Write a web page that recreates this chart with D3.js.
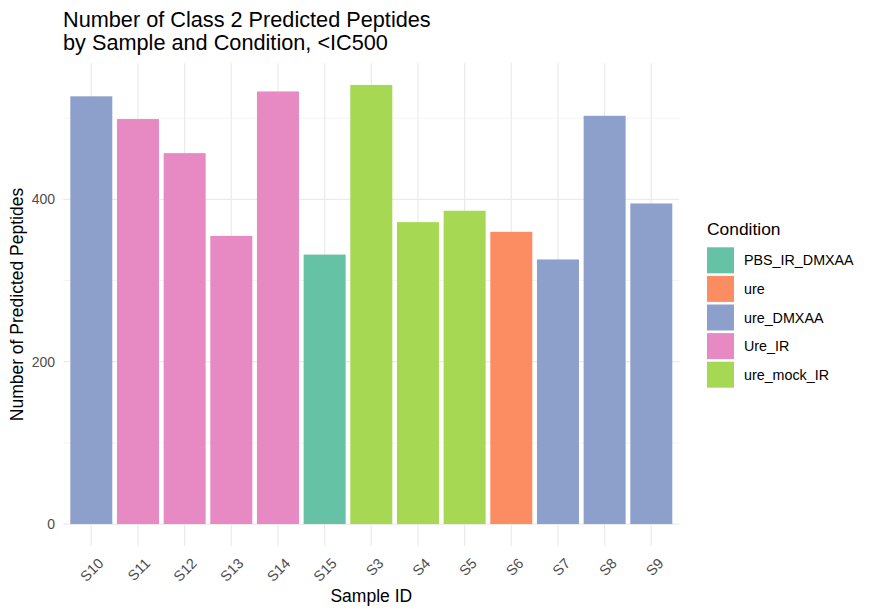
<!DOCTYPE html>
<html>
<head>
<meta charset="utf-8">
<script src="https://cdn.jsdelivr.net/npm/d3@7"></script>
<style>
  body { margin: 0; background: #fff; }
  text { font-family: "Liberation Sans", Arial, sans-serif; }
</style>
</head>
<body>
<div id="chart"></div>
<script>
// ========================================================================
// Data
// ========================================================================
var samples = ["S10", "S11", "S12", "S13", "S14", "S15", "S3", "S4", "S5", "S6", "S7", "S8", "S9"];
var peptides = [527, 499, 457, 355, 533, 332, 541, 372, 386, 360, 326, 503, 395];
var sampleCondition = ["ure_DMXAA", "Ure_IR", "Ure_IR", "Ure_IR", "Ure_IR", "PBS_IR_DMXAA",
  "ure_mock_IR", "ure_mock_IR", "ure_mock_IR", "ure", "ure_DMXAA", "ure_DMXAA", "ure_DMXAA"];
var conditions = ["PBS_IR_DMXAA", "ure", "ure_DMXAA", "Ure_IR", "ure_mock_IR"];
var conditionColors = ["#66C2A5", "#FC8D62", "#8DA0CB", "#E78AC3", "#A6D854"];
var yTicks = [0, 200, 400];
var yMinor = [100, 300, 500];

// ========================================================================
// Sizes
// ========================================================================
var width = 872, height = 615;
var panel = { left: 63.3, right: 679.3, top: 63, bottom: 546 };

var svg = d3.select("#chart").append("svg")
  .attr("width", width)
  .attr("height", height);

// discrete x: ggplot expands 0.6 of a step each side
var step = (panel.right - panel.left) / (samples.length - 1 + 1.2);
var x = d3.scalePoint()
  .domain(samples)
  .range([panel.left + 0.6 * step, panel.right - 0.6 * step]);
var barW = step * 0.9;

var maxV = d3.max(peptides);
var y = d3.scaleLinear()
  .domain([-0.05 * maxV, maxV * 1.05])
  .range([panel.bottom, panel.top]);

var color = d3.scaleOrdinal().domain(conditions).range(conditionColors);

// ========================================================================
// Grid
// ========================================================================
var grid = svg.append("g");
grid.selectAll(".minor").data(yMinor).enter().append("line")
  .attr("x1", panel.left).attr("x2", panel.right)
  .attr("y1", d => y(d)).attr("y2", d => y(d))
  .attr("stroke", "#EBEBEB").attr("stroke-width", 0.6);
grid.selectAll(".major").data(yTicks).enter().append("line")
  .attr("x1", panel.left).attr("x2", panel.right)
  .attr("y1", d => y(d)).attr("y2", d => y(d))
  .attr("stroke", "#EBEBEB").attr("stroke-width", 1.2);
grid.selectAll(".vmajor").data(samples).enter().append("line")
  .attr("x1", d => x(d)).attr("x2", d => x(d))
  .attr("y1", panel.top).attr("y2", panel.bottom)
  .attr("stroke", "#EBEBEB").attr("stroke-width", 1.2);

// ========================================================================
// Bars
// ========================================================================
svg.append("g").selectAll("rect")
  .data(samples)
  .enter().append("rect")
  .attr("x", d => x(d) - barW / 2)
  .attr("width", barW)
  .attr("y", (d, i) => y(peptides[i]))
  .attr("height", (d, i) => y(0) - y(peptides[i]))
  .attr("fill", (d, i) => color(sampleCondition[i]));

// ========================================================================
// Axes text
// ========================================================================
svg.append("g").selectAll("text")
  .data(yTicks)
  .enter().append("text")
  .attr("x", 55)
  .attr("y", d => y(d))
  .attr("dy", "0.35em")
  .attr("text-anchor", "end")
  .attr("font-size", 14)
  .attr("fill", "#4D4D4D")
  .text(d => d);

svg.append("g").selectAll("text")
  .data(samples)
  .enter().append("text")
  .attr("transform", d => "translate(" + (x(d) + 6) + "," + 557 + ") rotate(-45)")
  .attr("text-anchor", "end")
  .attr("dy", "0.7em")
  .attr("font-size", 14.5)
  .attr("fill", "#4D4D4D")
  .text(d => d);

svg.append("text")
  .attr("x", (panel.left + panel.right) / 2)
  .attr("y", 602)
  .attr("text-anchor", "middle")
  .attr("font-size", 17.5)
  .attr("fill", "#000")
  .text("Sample ID");

svg.append("text")
  .attr("transform", "translate(23," + (panel.top + panel.bottom) / 2 + ") rotate(-90)")
  .attr("text-anchor", "middle")
  .attr("font-size", 17.5)
  .attr("fill", "#000")
  .text("Number of Predicted Peptides");

// ========================================================================
// Title
// ========================================================================
var title = svg.append("text")
  .attr("x", 63)
  .attr("font-size", 21.7)
  .attr("fill", "#000");
title.append("tspan").attr("x", 63).attr("y", 27).text("Number of Class 2 Predicted Peptides");
title.append("tspan").attr("x", 63).attr("y", 50).text("by Sample and Condition, <IC500");

// ========================================================================
// Legend
// ========================================================================
var legend = svg.append("g").attr("transform", "translate(707,0)");
legend.append("text")
  .attr("x", 0).attr("y", 235)
  .attr("font-size", 17.4)
  .text("Condition");

var item = legend.selectAll(".item")
  .data(conditions)
  .enter().append("g")
  .attr("transform", (d, i) => "translate(0," + (247.3 + i * 28.6) + ")");
item.append("rect")
  .attr("width", 27).attr("height", 26)
  .attr("fill", d => color(d));
item.append("text")
  .attr("x", 37).attr("y", 13)
  .attr("dy", "0.35em")
  .attr("font-size", 14.3)
  .text(d => d);
</script>
</body>
</html>
